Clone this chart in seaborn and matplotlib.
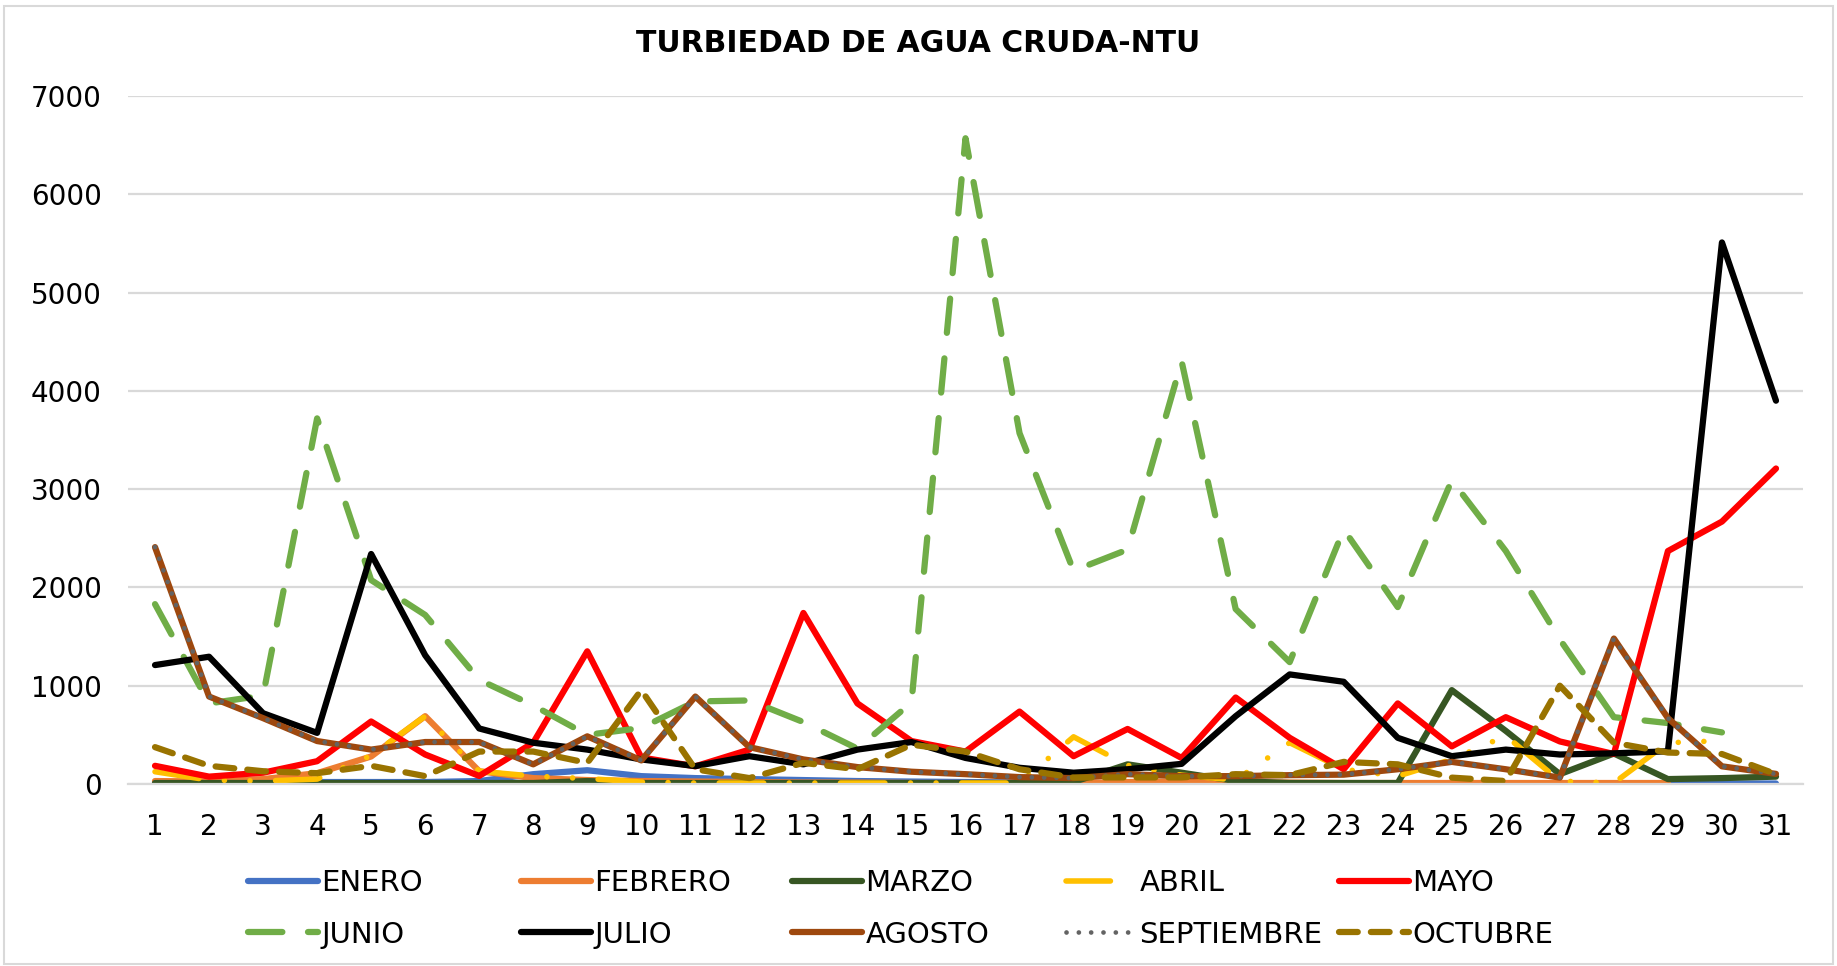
import matplotlib
matplotlib.use("Agg")
import matplotlib.pyplot as plt
import seaborn as sns
import pandas as pd

# datos (NTU por dia)
dias = list(range(1, 32))
enero = [20, 20, 20, 20, 20, 20, 30, 100, 140, 80, 60, 50, 40, 30, 25, 20,
         15, 10, 5, 5, 5, 5, 5, 5, 5, 5, 5, 5, 5, 5, 5]
febrero = [30, 25, 50, 110, 280, 690, 130, 60, 40, 30, 25, 20, 15, 15, 10,
           10, 10, 10, 20, 25, 20, 15, 10, 10, 10, 10, 10, 10, 10]
marzo = [10, 10, 10, 10, 10, 10, 10, 10, 30, 10, 10, 10, 10, 10, 10, 10,
         10, 20, 200, 115, 30, 10, 10, 10, 955, 540, 100, 310, 50, 60, 75]
abril = [125, 40, 30, 50, 290, 690, 130, 80, 55, 20, 10, 10, 10, 10, 10, 10,
         10, 480, 190, 90, 40, 420, 150, 80, 250, 490, 30, 10, 420, 440]
mayo = [185, 75, 115, 232, 636, 300, 82, 420, 1350, 270, 180, 350, 1740, 820,
        437, 330, 737, 283, 560, 265, 880, 470, 150, 820, 383, 680, 433, 305,
        2370, 2670, 3210]
junio = [1830, 820, 900, 3720, 2075, 1720, 1060, 800, 500, 570, 840, 850, 630,
         360, 830, 6570, 3570, 2170, 2385, 4300, 1780, 1240, 2590, 1800, 3090,
         2370, 1470, 680, 620, 525]
julio = [1210, 1295, 720, 520, 2340, 1310, 565, 420, 350, 250, 182, 283, 200,
         350, 427, 265, 165, 115, 150, 205, 690, 1115, 1040, 470, 283, 350, 300,
         312, 333, 5510, 3900]
agosto = [2410, 890, 670, 437, 350, 427, 427, 200, 485, 240, 890, 375, 250, 172,
          125, 100, 70, 60, 100, 80, 80, 90, 95, 150, 225, 150, 65, 1480, 670,
          180, 103]
septiembre = [2410, 890, 670, 437, 350, 427, 427, 200, 485, 240, 890, 375, 250,
              172, 125, 100, 70, 60, 100, 80, 80, 90, 95, 150, 225, 150, 65,
              1480, 670, 180, 103]
octubre = [375, 185, 130, 110, 185, 80, 330, 330, 215, 955, 150, 60, 215, 150,
           400, 330, 150, 66, 67, 67, 100, 90, 225, 200, 65, 30, 1000, 420, 320,
           305, 100]

meses = ["ENERO", "FEBRERO", "MARZO", "ABRIL", "MAYO",
         "JUNIO", "JULIO", "AGOSTO", "SEPTIEMBRE", "OCTUBRE"]
valores = [enero, febrero, marzo, abril, mayo,
           junio, julio, agosto, septiembre, octubre]

# estilo de cada serie: color, grosor, patron de guiones
estilos = {
    "ENERO": ("#4472C4", 4.5, None),
    "FEBRERO": ("#ED7D31", 4.5, None),
    "MARZO": ("#375623", 4.5, None),
    "ABRIL": ("#FFC000", 4.0, (0, (8, 4.6, 0.01, 4.6, 0.01, 4.6))),
    "MAYO": ("#FF0000", 4.5, None),
    "JUNIO": ("#70AD47", 4.5, (0, (5.5, 4.1))),
    "JULIO": ("#000000", 4.5, None),
    "AGOSTO": ("#9E480E", 4.5, None),
    "SEPTIEMBRE": ("#636363", 3.4, (0, (0.01, 2.6))),
    "OCTUBRE": ("#997300", 4.5, (0, (3, 2.1))),
}

sns.set_style("white")
plt.rcParams["font.family"] = ["DejaVu Sans"]
plt.rcParams["text.color"] = "black"

W, H = 1837, 966
fig = plt.figure(figsize=(W / 100, H / 100), dpi=100)
ax = fig.add_axes([128 / W, 1 - 784 / H, (1803 - 128) / W, (784 - 96) / H])

for mes, vals in zip(meses, valores):
    color, lw, dash = estilos[mes]
    df = pd.DataFrame({"dia": dias[:len(vals)], "ntu": vals})
    kw = dict(color=color, linewidth=lw, solid_capstyle="round",
              solid_joinstyle="round")
    if dash is not None:
        kw.update(linestyle=dash, dash_capstyle="round")
    sns.lineplot(data=df, x="dia", y="ntu", ax=ax, label=mes, legend=False,
                 sort=False, **kw)

ax.set_xlim(0.5, 31.5)
ax.set_ylim(0, 7000)
ax.set_xticks(dias)
ax.set_yticks(range(0, 7001, 1000))
ax.set_xlabel("")
ax.set_ylabel("")
ax.grid(axis="y", color="#D9D9D9", linewidth=1.6)
ax.grid(axis="x", visible=False)
ax.set_axisbelow(True)
for s in ["top", "right", "left"]:
    ax.spines[s].set_visible(False)
ax.spines["bottom"].set_color("#D9D9D9")
ax.spines["bottom"].set_linewidth(1.6)
ax.tick_params(axis="x", length=0, pad=21, labelsize=20, labelcolor="black")
ax.tick_params(axis="y", length=0, pad=19, labelsize=20, labelcolor="black")

fig.text(0.5, 1 - 43 / H, "TURBIEDAD DE AGUA CRUDA-NTU", ha="center",
         va="center", fontsize=21.5, fontweight="bold", color="black")

# leyenda en 5 columnas de ancho fijo (como Excel)
lineas = ax.get_lines()
col_x = [248, 521, 792, 1066, 1339]
for c in range(5):
    hs = [lineas[c], lineas[c + 5]]
    labs = [meses[c], meses[c + 5]]
    fig.legend(hs, labs, loc="center left",
               bbox_to_anchor=(col_x[c] / W, 1 - 909 / H),
               frameon=False, fontsize=21, handlelength=2.4,
               handletextpad=0.12, labelspacing=0.8, borderpad=0,
               borderaxespad=0, labelcolor="black")

# borde del area del grafico
fig.patches.append(plt.Rectangle((4 / W, 2 / H), (W - 8) / W, (H - 8) / H,
                                 transform=fig.transFigure, fill=False,
                                 edgecolor="#D9D9D9", linewidth=1.5))

fig.savefig("out.png", dpi=100)
